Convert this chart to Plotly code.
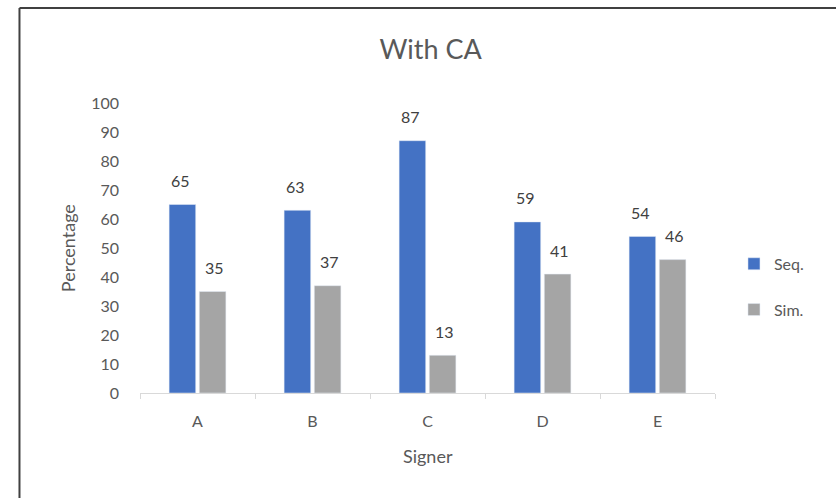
import plotly.graph_objects as go

signers = ["A", "B", "C", "D", "E"]
seq_values = [65, 63, 87, 59, 54]
sim_values = [35, 37, 13, 41, 46]
y_ticks = [0, 10, 20, 30, 40, 50, 60, 70, 80, 90, 100]

SEQ_COLOR = "#4472C4"
SIM_COLOR = "#A5A5A5"
TEXT_COLOR = "#595959"
LABEL_COLOR = "#404040"
FONT = "Lato, 'Open Sans', sans-serif"

fig = go.Figure()
fig.add_trace(go.Bar(name="Seq.", x=signers, y=seq_values, marker_color=SEQ_COLOR,
                     legendgroup="seq"))
fig.add_trace(go.Bar(name="Sim.", x=signers, y=sim_values, marker_color=SIM_COLOR,
                     legendgroup="sim"))

# value labels above each bar, placed at the bar's own value
bar_offset = 0.148  # half of a bar slot in category units
annotations = []
for i, v in enumerate(seq_values):
    annotations.append(dict(x=i - bar_offset, y=v, xref="x", yref="y", text=str(v),
                            showarrow=False, yanchor="middle", yshift=24,
                            font=dict(size=16, color=LABEL_COLOR, family=FONT)))
for i, v in enumerate(sim_values):
    annotations.append(dict(x=i + bar_offset, y=v, xref="x", yref="y", text=str(v),
                            showarrow=False, yanchor="middle", yshift=24,
                            font=dict(size=16, color=LABEL_COLOR, family=FONT)))

# y axis title
annotations.append(dict(x=-0.125, y=0.5, xref="paper", yref="paper", text="Percentage",
                        showarrow=False, textangle=-90, xanchor="center", yanchor="middle",
                        font=dict(size=18, color=TEXT_COLOR, family=FONT)))
# x axis title
annotations.append(dict(x=0.5, y=-0.217, xref="paper", yref="paper", text="Signer",
                        showarrow=False, xanchor="center", yanchor="middle",
                        font=dict(size=18, color=TEXT_COLOR, family=FONT)))

# frame lines along the top and left edge of the page
shapes = [
    dict(type="line", xref="paper", yref="paper", x0=-0.2096, x1=1.3, y0=1.328, y1=1.328,
         line=dict(color="#404040", width=2)),
    dict(type="line", xref="paper", yref="paper", x0=-0.2096, x1=-0.2096, y0=1.328, y1=-0.4,
         line=dict(color="#404040", width=2)),
]

fig.update_layout(
    width=836, height=498,
    margin=dict(l=140, r=121, t=103, b=105),
    paper_bgcolor="white", plot_bgcolor="white",
    font=dict(family=FONT, color=TEXT_COLOR, size=16),
    title=dict(text="With CA", x=0.515, xanchor="center", y=0.9, yanchor="middle",
               font=dict(size=27, color=TEXT_COLOR, family=FONT)),
    barmode="group", bargap=0.475, bargroupgap=0.12,
    showlegend=True,
    legend=dict(x=1.033, xanchor="left", y=0.366, yanchor="middle",
                tracegroupgap=22, font=dict(size=16, color=TEXT_COLOR, family=FONT),
                itemwidth=30),
    annotations=annotations,
    shapes=shapes,
)

fig.update_xaxes(showgrid=False, showline=True, linecolor="#D9D9D9", linewidth=1,
                 ticks="outside", tickson="boundaries", ticklen=5, tickcolor="#D9D9D9",
                 ticklabelstandoff=14, tickfont=dict(size=16, color=TEXT_COLOR))
fig.update_yaxes(range=[0, 100], tickvals=y_ticks, showgrid=False, showline=False,
                 zeroline=False, ticks="", ticklabelstandoff=20,
                 tickfont=dict(size=16, color=TEXT_COLOR))

fig.write_html("out.html")
